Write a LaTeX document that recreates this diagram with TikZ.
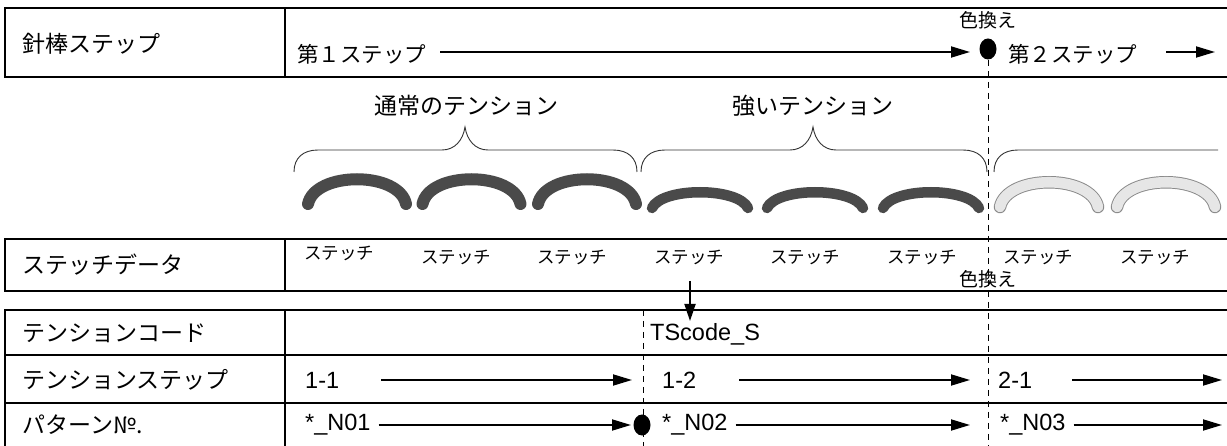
\documentclass[tikz,border=0pt]{standalone}
\usepackage{fontspec}
\setmainfont{Liberation Sans}
\newfontfamily\jp{Noto Sans CJK JP}
\usetikzlibrary{arrows.meta,shapes.geometric}
\definecolor{darkst}{HTML}{4A4A4A}
\definecolor{lightst}{HTML}{E6E6E6}
\definecolor{lightedge}{HTML}{8A8A8A}
\begin{document}
\begin{tikzpicture}[x=1pt,y=-1pt,
  grid/.style={line width=1.2pt,line cap=rect},
  arr/.style={line width=1.8pt,-{Triangle[length=19pt,width=11pt]}},
  lbl/.style={anchor=west,inner sep=0,font=\jp\fontsize{23}{23}\selectfont},
  dat/.style={anchor=west,inner sep=0,font=\jp\fontsize{21.5}{22}\selectfont},
  lat/.style={anchor=west,inner sep=0,font=\fontsize{23.5}{24}\selectfont},
  stt/.style={inner sep=0,font=\jp\fontsize{17.5}{18}\selectfont},
  iro/.style={inner sep=0,font=\jp\fontsize{19}{19}\selectfont},
  brct/.style={inner sep=0,font=\jp\fontsize{23}{23}\selectfont},
  brc/.style={line width=0.9pt,draw=black!80},
  vdash/.style={line width=1pt,dash pattern=on 6pt off 5pt},
  dotn/.style={ellipse,fill=black,minimum width=17pt,minimum height=21pt,inner sep=0},
  darkarc/.style={draw=darkst,line width=12pt,line cap=round},
  midarc/.style={draw=darkst,line width=10.5pt,line cap=round},
  lightout/.style={draw=lightedge,line width=12.5pt,line cap=round},
  lightin/.style={draw=lightst,line width=10.6pt,line cap=round}]
\useasboundingbox (0,0) rectangle (1227,446);
\fill[white] (0,0) rectangle (1227,446);

% ---- table lines
\draw[grid] (5,8) -- (1227,8) (5,77) -- (1227,77) (5,8) -- (5,77) (285,8) -- (285,77);
\draw[grid] (5,239) -- (1227,239) (5,291) -- (1227,291) (5,239) -- (5,291) (285,239) -- (285,291);
\draw[grid] (5,310) -- (1227,310) (5,355) -- (1227,355) (5,403) -- (1227,403)
            (5,310) -- (5,446) (285,310) -- (285,446);

% ---- dashed change lines
\coordinate (dA1) at (988,60); \coordinate (dA2) at (988,446);
\coordinate (dB1) at (643,310); \coordinate (dB2) at (643,446);
\draw[vdash] (dA1) -- (dA2);
\draw[vdash] (dB1) -- (dB2);

% ---- row labels
\node[lbl] (r1) at (22,44) {針棒ステップ};
\node[lbl] (r2) at (22,265) {ステッチデータ};
\node[lbl] (r3) at (22,333) {テンションコード};
\node[lbl] (r4) at (22,380) {テンションステップ};
\node[lbl] (r5) at (22,425) {パターン№.};

% ---- needle bar steps
\node[dat] (st1) at (297,54) {第１ステップ};
\node[dat] (st2) at (1008,54) {第２ステップ};
\node[iro] (c1) at (988,20) {色換え};
\node[dotn] (d1) at (988,49) {};
\coordinate (a1s) at (440,52); \coordinate (a1e) at (970,52);
\coordinate (a2s) at (1166,52); \coordinate (a2e) at (1215,52);
\draw[arr] (a1s) -- (a1e);
\draw[arr] (a2s) -- (a2e);

% ---- braces
\node[brct] (b1) at (466,106) {通常のテンション};
\node[brct] (b2) at (813,106) {強いテンション};
\draw[brc] (294,172) .. controls (294,158) and (303,150) .. (318,150) -- (442,150)
  .. controls (455,150) and (463,140) .. (465,127)
  .. controls (467,140) and (475,150) .. (488,150) -- (613,150)
  .. controls (628,150) and (637,158) .. (637,172);
\draw[brc] (641,172) .. controls (641,158) and (650,150) .. (665,150) -- (790,150)
  .. controls (803,150) and (811,140) .. (813,127)
  .. controls (815,140) and (823,150) .. (836,150) -- (963,150)
  .. controls (978,150) and (987,158) .. (987,172);
\draw[brc] (994,172) .. controls (994,158) and (1003,150) .. (1018,150) -- (1218,150);

% ---- stitches
\foreach \cx in {357,471.5,587}
  \draw[darkarc] (\cx-49,204) .. controls (\cx-42,171) and (\cx+42,171) .. (\cx+49,204);
\foreach \cx in {700,815,931}
  \draw[midarc] (\cx-48,208) .. controls (\cx-38,187) and (\cx+38,187) .. (\cx+48,208);
\foreach \cx in {1049,1166}{
  \draw[lightout] (\cx-49,207) .. controls (\cx-42,174) and (\cx+42,174) .. (\cx+49,207);
  \draw[lightin] (\cx-49,207) .. controls (\cx-42,174) and (\cx+42,174) .. (\cx+49,207);
}

% ---- stitch data labels
\node[stt] (s1) at (339,253) {ステッチ};
\foreach \x [count=\i from 2] in {456,572,689,805,922,1038,1155}
  \node[stt] (s\i) at (\x,257) {ステッチ};
\node[iro] (c2) at (988,279) {色換え};

% ---- tension code
\coordinate (tsb) at (690,281);
\coordinate (tsa) at (690,321);
\draw[line width=1.8pt,-{Triangle[length=17pt,width=11pt]}] (tsb) -- (tsa);
\node[lat] (ts) at (650,334) {TScode\_S};

% ---- tension steps
\node[lat] (t11) at (305,380) {1-1};
\node[lat] (t12) at (662,380) {1-2};
\node[lat] (t21) at (998,380) {2-1};
\coordinate (e11) at (632,380); \coordinate (e12) at (970,380); \coordinate (e21) at (1222,380);
\draw[arr] (t11.east) ++(42,0) -- (e11);
\draw[arr] (t12.east) ++(43,0) -- (e12);
\draw[arr] (t21.east) ++(40,0) -- (e21);

% ---- pattern numbers
\node[lat] (p1) at (305,425) {*\_N01};
\node[dotn] (d2) at (642,425) {};
\node[lat] (p2) at (662,425) {*\_N02};
\node[lat] (p3) at (1000,425) {*\_N03};
\coordinate (q1) at (631,425); \coordinate (q2) at (970,425); \coordinate (q3) at (1222,425);
\draw[arr] (p1.east) ++(8,0) -- (q1);
\draw[arr] (p2.east) ++(8,0) -- (q2);
\draw[arr] (p3.east) ++(8,0) -- (q3);
\end{tikzpicture}
\end{document}
